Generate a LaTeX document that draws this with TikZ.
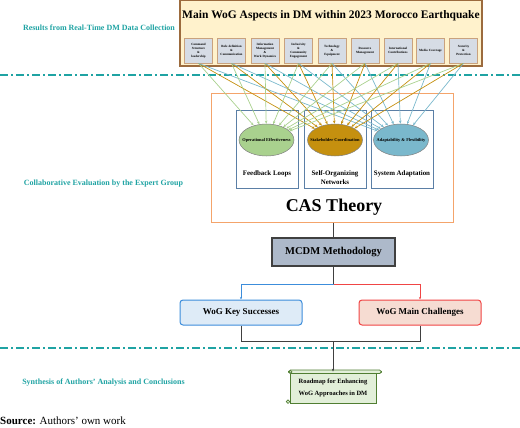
\documentclass[tikz,border=0pt]{standalone}
\usepackage{fontspec}
\setmainfont{Liberation Serif}
\usetikzlibrary{shapes.geometric,arrows.meta,calc}
\definecolor{topfill}{HTML}{FFF2CC}
\definecolor{topbd}{HTML}{9C6B3E}
\definecolor{aspfill}{HTML}{D6DCE5}
\definecolor{aspbd}{HTML}{C9A27E}
\definecolor{tealc}{HTML}{1FA3A3}
\definecolor{gA}{HTML}{A9D18E}
\definecolor{oA}{HTML}{C5900F}
\definecolor{bA}{HTML}{7AB8CC}
\definecolor{casor}{HTML}{F4A46B}
\definecolor{bluebd}{HTML}{5B7FA6}
\definecolor{mcdmfill}{HTML}{ADB9CA}
\definecolor{darkl}{HTML}{404040}
\definecolor{succfill}{HTML}{DEEBF7}
\definecolor{succbd}{HTML}{3C8DDB}
\definecolor{chalfill}{HTML}{F6DCD2}
\definecolor{chalbd}{HTML}{F04545}
\definecolor{roadfill}{HTML}{E2EFD9}
\definecolor{roadbd}{HTML}{507E32}
\begin{document}
\begin{tikzpicture}[x=1pt,y=-1pt,
  aspect/.style={draw=aspbd, fill=aspfill, line width=0.7pt, minimum width=28pt, minimum height=25pt,
    text width=27pt, inner sep=0.4pt, align=center, font=\fontsize{3.2}{4}\selectfont\bfseries},
  ell/.style={ellipse, draw=gray, line width=0.5pt, minimum width=55pt, minimum height=32pt, inner sep=0pt},
  elltext/.style={inner sep=0pt, font=\fontsize{4.4}{5}\selectfont\bfseries},
  cbox/.style={draw=bluebd, line width=0.8pt, minimum width=62pt, minimum height=78pt, inner sep=0pt},
  cboxlab/.style={font=\fontsize{6.9}{8.6}\selectfont\bfseries, align=center},
  sect/.style={text=tealc, font=\fontsize{8}{9}\selectfont\bfseries, inner sep=0pt},
  ddline/.style={draw=tealc, line width=1.2pt, dash pattern=on 8pt off 3pt on 2pt off 3pt},
  arr/.style={line width=0.7pt, -{Stealth[length=3.2pt,width=2.6pt]}},
  flow/.style={draw=darkl, line width=0.8pt},
  flowarr/.style={flow, -{Stealth[length=3pt,width=2.4pt]}},
]
\useasboundingbox (0,0) rectangle (520,428);

% top box
\node[draw=topbd, fill=topfill, line width=1.2pt, minimum width=302pt, minimum height=66pt, inner sep=0pt] (top) at (331,33) {};
\node[font=\fontsize{11.5}{13}\selectfont\bfseries, inner sep=0pt] (title) at (331,16) {Main WoG Aspects in DM within 2023 Morocco Earthquake};

\node[aspect] (b1) at (198.5,50.5) {Command\\Structure\\\&\\leadership};
\node[aspect] (b2) at (231.5,50.5) {Role definition\\\&\\Communication};
\node[aspect] (b3) at (265,50.5) {Information\\Management\\\&\\Work Dynamics};
\node[aspect] (b4) at (298.5,50.5) {Inclusivity\\\&\\Community\\Engagement};
\node[aspect] (b5) at (332,50.5) {Technology\\\&\\Equipment};
\node[aspect] (b6) at (365,50.5) {Resource\\Management};
\node[aspect] (b7) at (398,50.5) {International\\Contributions};
\node[aspect] (b8) at (430.5,50.5) {Media Coverage};
\node[aspect] (b9) at (463.5,50.5) {Security\\\&\\Protection};

% section labels
\node[sect] (s1) at (99,28) {Results from Real-Time DM Data Collection};
\node[sect] (s2) at (103.5,184) {Collaborative Evaluation by the Expert Group};
\node[sect] (s3) at (103.5,383) {Synthesis of Authors' Analysis and Conclusions};

% dash-dot lines
\coordinate (d1l) at (0,75); \coordinate (d1r) at (520,75);
\coordinate (d2l) at (0,348); \coordinate (d2r) at (520,348);
\draw[ddline] (d1l) -- (d1r);
\draw[ddline] (d2l) -- (d2r);

% CAS frame
\node[draw=casor, line width=1pt, minimum width=242pt, minimum height=128pt, inner sep=0pt] (cas) at (332.5,158) {};
\node[cbox] (c1) at (267,149) {};
\node[cbox] (c2) at (335,149) {};
\node[cbox] (c3) at (402,149) {};
\node[ell, fill=gA] (e1) at (266.5,140) {};
\node[ell, fill=oA] (e2) at (335,140) {};
\node[ell, fill=bA] (e3) at (401,140) {};
\node[elltext] (t1) at (e1) {Operational Effectiveness};
\node[elltext] (t2) at (e2) {Stakeholder Coordination};
\node[elltext] (t3) at (e3) {Adaptability \& Flexibility};
\node[cboxlab] (l1) at (267,174) {Feedback Loops};
\node[cboxlab] (l2) at (335,177.5) {Self-Organizing\\Networks};
\node[cboxlab] (l3) at (402,174) {System Adaptation};
\node[font=\fontsize{18}{20}\selectfont\bfseries, inner sep=0pt] (castitle) at (334,207) {CAS Theory};

% arrows from aspects to ellipses
\foreach \i in {1,...,9}{
  \draw[arr, gA] (b\i.south) -- (e1);
  \draw[arr, oA] (b\i.south) -- (e2);
  \draw[arr, bA] (b\i.south) -- (e3);
}

% MCDM
\node[draw=darkl, fill=mcdmfill, line width=1.1pt, minimum width=123pt, minimum height=28pt, inner sep=0pt,
  font=\fontsize{10.5}{12}\selectfont\bfseries] (mcdm) at (333.5,252) {MCDM Methodology};
\draw[flow] (cas.south -| mcdm.north) -- (mcdm.north);

\node[draw=succbd, fill=succfill, line width=1pt, rounded corners=3pt, minimum width=122pt, minimum height=25pt,
  inner sep=0pt, font=\fontsize{9}{10}\selectfont\bfseries] (succ) at (241,312.5) {WoG Key Successes};
\node[draw=chalbd, fill=chalfill, line width=1pt, rounded corners=3pt, minimum width=122pt, minimum height=25pt,
  inner sep=0pt, font=\fontsize{9}{10}\selectfont\bfseries] (chal) at (420,312.5) {WoG Main Challenges};

\coordinate (split) at (333.5,284);
\draw[flow] (mcdm.south) -- (split);
\draw[line width=0.8pt, succbd, -{Stealth[length=2.5pt,width=2pt]}] (split) -| (succ.north);
\draw[line width=0.8pt, chalbd, -{Stealth[length=2.5pt,width=2pt]}] (split) -| (chal.north);

% roadmap scroll
\node[draw=roadbd, fill=roadfill, line width=0.9pt, minimum width=86pt, minimum height=31pt, inner sep=0pt,
  align=center, font=\fontsize{6.5}{12}\selectfont\bfseries] (road) at (333,387.5) {Roadmap for Enhancing\\WoG Approaches in DM};
\draw[draw=roadbd, fill=roadfill, line width=0.8pt, rounded corners=1.8pt] (road.north west) ++(-1,-1.5) rectangle ($(road.north east)+(5,2)$);
\draw[draw=roadbd, fill=roadfill, line width=0.7pt] ($(road.north west)+(1,0.3)$) circle (1.4pt);
\draw[draw=roadbd, fill=roadfill, line width=0.7pt] ($(road.south west)+(-1.5,-1.8)$) circle (1.8pt);

\coordinate (join) at (333,341);
\draw[flow] (succ.south) |- (join);
\draw[flow] (chal.south) |- (join);
\draw[flowarr] (join) -- (road.north);

% source
\node[anchor=west, inner sep=0pt, font=\fontsize{11}{13}\selectfont] (src) at (0,421) {\textbf{Source:} Authors' own work};
\end{tikzpicture}
\end{document}
